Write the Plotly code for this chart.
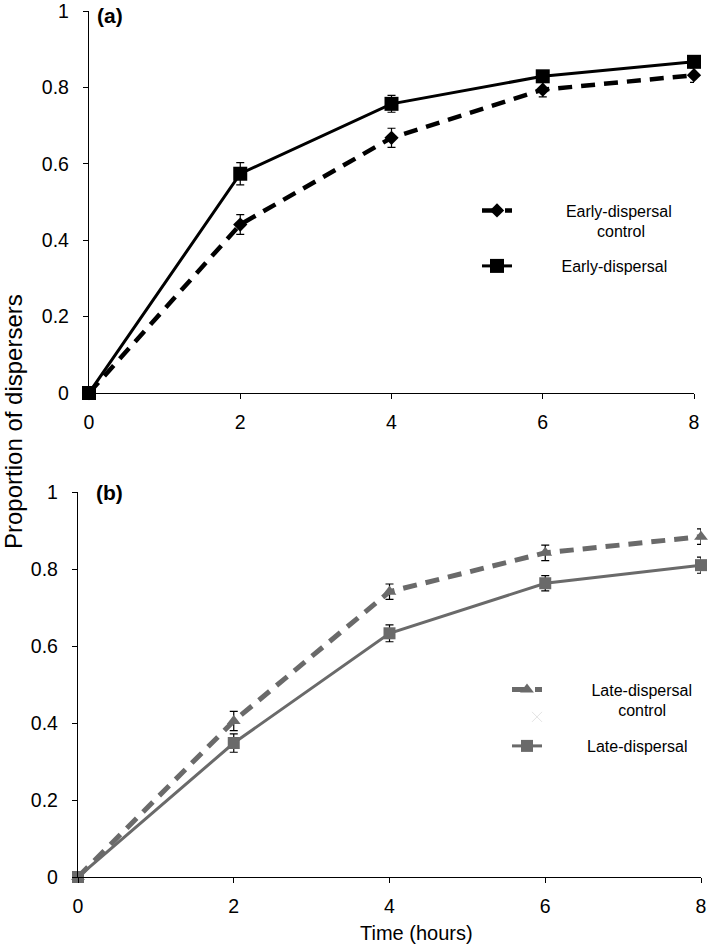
import plotly.graph_objects as go

# ---------------- data ----------------
hours = [0, 2, 4, 6, 8]

early_control = [0, 0.441, 0.668, 0.794, 0.832]
early_control_err = [0, 0.026, 0.025, 0.019, 0.019]
early = [0, 0.574, 0.757, 0.829, 0.867]
early_err = [0, 0.029, 0.022, 0.015, 0.012]

late_control = [0, 0.405, 0.741, 0.842, 0.884]
late_control_err = [0, 0.025, 0.02, 0.02, 0.02]
late = [0, 0.348, 0.633, 0.763, 0.810]
late_err = [0, 0.024, 0.022, 0.02, 0.021]

x_ticks = [0, 2, 4, 6, 8]
x_tick_labels = ["0", "2", "4", "6", "8"]
y_ticks = [0, 0.2, 0.4, 0.6, 0.8, 1.0]
y_tick_labels = ["0", "0.2", "0.4", "0.6", "0.8", "1"]

NB = "&nbsp;"
name_early_control = NB * 11 + "Early-dispersal<br>" + NB * 18 + "control"
name_early = NB * 10 + "Early-dispersal"
name_late_control = NB * 10 + "Late-dispersal<br>" + NB * 16 + "control"
name_late = NB * 9 + "Late-dispersal"

W, H = 709, 946
FONT = "Liberation Sans, Arial, sans-serif"
GRAY = "#6a6a6a"


def px_x(p):
    return p / W


def px_y(p):
    return 1 - p / H


fig = go.Figure()

# top panel
fig.add_trace(go.Scatter(
    x=hours, y=early_control, name=name_early_control, legend="legend",
    mode="lines+markers", xaxis="x", yaxis="y",
    line=dict(color="black", width=4.5, dash="14px,9px"),
    marker=dict(symbol="diamond", size=11, color="black"),
    error_y=dict(type="data", array=early_control_err, color="black", thickness=1.2, width=4),
    cliponaxis=False,
))
fig.add_trace(go.Scatter(
    x=hours, y=early, name=name_early, legend="legend2",
    mode="lines+markers", xaxis="x", yaxis="y",
    line=dict(color="black", width=3),
    marker=dict(symbol="square", size=14, color="black"),
    error_y=dict(type="data", array=early_err, color="black", thickness=1.2, width=4),
    cliponaxis=False,
))

# bottom panel
fig.add_trace(go.Scatter(
    x=hours, y=late_control, name=name_late_control, legend="legend3",
    mode="lines+markers", xaxis="x2", yaxis="y2",
    line=dict(color=GRAY, width=5, dash="14px,9px"),
    marker=dict(symbol="triangle-up", size=12, color=GRAY),
    error_y=dict(type="data", array=late_control_err, color="black", thickness=1.2, width=4),
    cliponaxis=False,
))
fig.add_trace(go.Scatter(
    x=[None], y=[None], name="", legend="legend5",
    mode="markers", xaxis="x2", yaxis="y2",
    marker=dict(symbol="x-thin", size=10, line=dict(color="#e4e4e4", width=1)),
))
fig.add_trace(go.Scatter(
    x=hours, y=late, name=name_late, legend="legend4",
    mode="lines+markers", xaxis="x2", yaxis="y2",
    line=dict(color=GRAY, width=3),
    marker=dict(symbol="square", size=12, color=GRAY),
    error_y=dict(type="data", array=late_err, color="black", thickness=1.2, width=4),
    cliponaxis=False,
))

axis_common = dict(
    showgrid=False, zeroline=False, showline=True, linecolor="black", linewidth=1.3,
    ticks="outside", ticklen=5, tickwidth=1.3, tickcolor="black", automargin=False,
    ticklabeloverflow="allow",
    tickfont=dict(family=FONT, size=19.5, color="black"),
)

legend_common = dict(
    bgcolor="rgba(0,0,0,0)", borderwidth=0, valign="top",
    font=dict(family=FONT, size=16, color="black"),
    xanchor="left", yanchor="middle",
)

fig.update_layout(
    width=W, height=H, autosize=False,
    margin=dict(l=0, r=0, t=0, b=0, autoexpand=False),
    paper_bgcolor="white", plot_bgcolor="white",
    showlegend=True,
    xaxis=dict(domain=[px_x(89), px_x(694)], range=[0, 8], tickvals=x_ticks,
               ticktext=x_tick_labels, anchor="y", ticklabelstandoff=6, **axis_common),
    yaxis=dict(domain=[px_y(393), px_y(11)], range=[0, 1], tickvals=y_ticks,
               ticktext=y_tick_labels, anchor="x", ticklabelstandoff=10, **axis_common),
    xaxis2=dict(domain=[px_x(78), px_x(701)], range=[0, 8], tickvals=x_ticks,
                ticktext=x_tick_labels, anchor="y2", ticklabelstandoff=6, **axis_common),
    yaxis2=dict(domain=[px_y(877), px_y(492)], range=[0, 1], tickvals=y_ticks,
                ticktext=y_tick_labels, anchor="x2", ticklabelstandoff=10, **axis_common),
    legend=dict(x=px_x(477), y=px_y(221), **legend_common),
    legend2=dict(x=px_x(477), y=px_y(266), **legend_common),
    legend3=dict(x=px_x(507), y=px_y(700), **legend_common),
    legend4=dict(x=px_x(507), y=px_y(746), **legend_common),
    legend5=dict(x=px_x(517), y=px_y(717), **legend_common),
    annotations=[
        dict(text="<b>(a)</b>", x=px_x(95), y=px_y(16), xref="paper", yref="paper",
             xanchor="left", yanchor="middle", showarrow=False,
             font=dict(family=FONT, size=21, color="black")),
        dict(text="<b>(b)</b>", x=px_x(94), y=px_y(492), xref="paper", yref="paper",
             xanchor="left", yanchor="middle", showarrow=False,
             font=dict(family=FONT, size=21, color="black")),
        dict(text="Proportion of dispersers", x=px_x(14), y=px_y(422), xref="paper",
             yref="paper", xanchor="center", yanchor="middle", textangle=-90,
             showarrow=False, font=dict(family=FONT, size=24, color="black")),
        dict(text="Time (hours)", x=px_x(416), y=px_y(933), xref="paper", yref="paper",
             xanchor="center", yanchor="middle", showarrow=False,
             font=dict(family=FONT, size=20, color="black")),
    ],
)

fig.write_html("out.html", config={"displayModeBar": False},
               post_script="document.body.style.margin='0';")
